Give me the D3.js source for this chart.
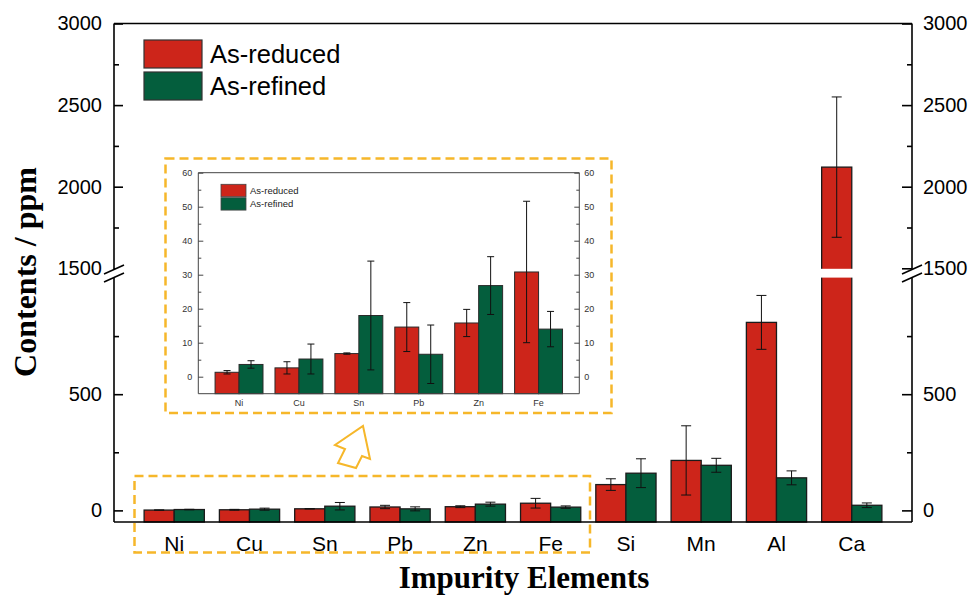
<!DOCTYPE html>
<html>
<head>
<meta charset="utf-8">
<script src="https://cdn.jsdelivr.net/npm/d3@7/dist/d3.min.js"></script>
<style>
body{margin:0;background:#fff;}
text{font-family:"Liberation Sans",Arial,sans-serif;}
.title{font-family:"Liberation Serif","Times New Roman",serif;font-weight:bold;}
</style>
</head>
<body>
<script>
// impurity contents (ppm)
var categories = ["Ni", "Cu", "Sn", "Pb", "Zn", "Fe", "Si", "Mn", "Al", "Ca"];
var insetCategories = ["Ni", "Cu", "Sn", "Pb", "Zn", "Fe"];
var seriesNames = ["As-reduced", "As-refined"];
var reduced = [1.3, 2.6, 6.8, 14.6, 15.8, 30.8, 111, 215, 809, 2120];
var reducedErr = [0.5, 1.8, 0.2, 7.2, 4.0, 20.8, 25, 149, 116, 430];
var refined = [3.6, 5.2, 18.0, 6.6, 26.8, 14.0, 160, 194, 140, 22];
var refinedErr = [1.1, 4.4, 16.0, 8.6, 8.5, 5.2, 62, 30, 30, 10];

var lowerTicks = [0, 500], lowerMinor = [250, 750];
var upperTicks = [1500, 2000, 2500, 3000], upperMinor = [1750, 2250, 2750];
var insetTicks = [0, 10, 20, 30, 40, 50, 60], insetMinor = [5, 15, 25, 35, 45, 55];

var colors = ["#CD251A", "#045E3D"];
var gold = "#F6B72A";

window.onload = function(){
	var w = 970, h = 596;
	var svg = d3.select("body").append("svg")
		.attr("width", w)
		.attr("height", h)
		.attr("class", "container");

	// long table: one row per bar
	var rows = [];
	categories.forEach(function(c, i){
		rows.push({cat: c, s: 0, v: reduced[i], e: reducedErr[i]});
		rows.push({cat: c, s: 1, v: refined[i], e: refinedErr[i]});
	});

	// ---------- main chart ----------
	var pLeft = 114, pRight = 912, pTop = 23.5, pBottom = 522;

	var x0 = d3.scaleBand().domain(categories).range([pLeft, pRight])
		.paddingInner(0.2).paddingOuter(0.4);
	var x1 = d3.scaleBand().domain([0, 1]).range([0, x0.bandwidth()]);

	var yLow = d3.scaleLinear().domain([-50, 1000]).range([pBottom, 278]);
	var yHigh = d3.scaleLinear().domain([1500, 3000]).range([268.3, pTop]);
	function yMain(v){
		if (v <= 1000) return yLow(v);
		if (v >= 1500) return yHigh(v);
		return 273;
	}

	// bars stand on the bottom axis (-50), like the original
	var bars = svg.append("g").attr("class", "bars");
	bars.selectAll("rect")
		.data(rows)
		.enter()
		.append("rect")
		.attr("x", function(d){ return x0(d.cat) + x1(d.s); })
		.attr("width", x1.bandwidth())
		.attr("y", function(d){ return yMain(d.v); })
		.attr("height", function(d){ return yLow(-50) - yMain(d.v); })
		.style("fill", function(d){ return colors[d.s]; })
		.style("stroke", "#1b1b1b")
		.style("stroke-width", 1.3);

	function drawErrors(g, data, xs0, xs1, ys, cap){
		var eb = g.selectAll(".err")
			.data(data)
			.enter()
			.append("g")
			.attr("class", "err")
			.style("stroke", "#111")
			.style("stroke-width", 1);
		eb.append("line")
			.attr("x1", function(d){ return xs0(d.cat) + xs1(d.s) + xs1.bandwidth() / 2; })
			.attr("x2", function(d){ return xs0(d.cat) + xs1(d.s) + xs1.bandwidth() / 2; })
			.attr("y1", function(d){ return ys(d.v - d.e); })
			.attr("y2", function(d){ return ys(d.v + d.e); });
		[-1, 1].forEach(function(sign){
			eb.append("line")
				.attr("x1", function(d){ return xs0(d.cat) + xs1(d.s) + xs1.bandwidth() / 2 - cap / 2; })
				.attr("x2", function(d){ return xs0(d.cat) + xs1(d.s) + xs1.bandwidth() / 2 + cap / 2; })
				.attr("y1", function(d){ return ys(d.v + sign * d.e); })
				.attr("y2", function(d){ return ys(d.v + sign * d.e); });
		});
	}
	drawErrors(bars, rows, x0, x1, yMain, 10);

	// white gap where the axis is broken
	svg.append("rect")
		.attr("x", pLeft + 2).attr("y", 268.8)
		.attr("width", pRight - pLeft - 4).attr("height", 8.8)
		.style("fill", "#fff");

	// frame
	var frame = svg.append("g").style("stroke", "#000").style("stroke-width", 1.6);
	frame.append("line").attr("x1", pLeft).attr("x2", pRight).attr("y1", pTop).attr("y2", pTop);
	frame.append("line").attr("x1", pLeft).attr("x2", pRight).attr("y1", pBottom).attr("y2", pBottom);
	frame.append("line").attr("x1", pLeft).attr("x2", pLeft).attr("y1", pTop).attr("y2", pBottom);
	frame.append("line").attr("x1", pRight).attr("x2", pRight).attr("y1", pTop).attr("y2", pBottom);

	function styleAxis(g, size){
		g.select(".domain").remove();
		g.selectAll(".tick line").style("stroke", "#000").style("stroke-width", 1.6);
		g.selectAll(".tick text").style("font-size", size + "px").style("fill", "#000")
			.style("font-family", "'Liberation Sans', Arial, sans-serif");
	}

	[[yLow, lowerTicks, lowerMinor], [yHigh, upperTicks, upperMinor]].forEach(function(p){
		var gl = svg.append("g").attr("transform", "translate(" + pLeft + ",0)")
			.call(d3.axisLeft(p[0]).tickValues(p[1]).tickSize(-9).tickPadding(12));
		styleAxis(gl, 20);
		var glm = svg.append("g").attr("transform", "translate(" + pLeft + ",0)")
			.call(d3.axisLeft(p[0]).tickValues(p[2]).tickSize(-5).tickFormat(""));
		styleAxis(glm, 20);
		var gr = svg.append("g").attr("transform", "translate(" + pRight + ",0)")
			.call(d3.axisRight(p[0]).tickValues(p[1]).tickSize(-10).tickPadding(11));
		styleAxis(gr, 20);
		var grm = svg.append("g").attr("transform", "translate(" + pRight + ",0)")
			.call(d3.axisRight(p[0]).tickValues(p[2]).tickSize(-5).tickFormat(""));
		styleAxis(grm, 20);
	});
	// plain numbers, no thousands separator
	svg.selectAll(".tick text").text(function(){ return this.textContent.replace(",", ""); });

	// break marks on both axes
	[pLeft, pRight].forEach(function(ax){
		svg.append("path")
			.attr("d", "M" + (ax - 10) + ",274 L" + (ax + 10) + ",265 L" + (ax + 10) + ",273 L" + (ax - 10) + ",282 Z")
			.style("fill", "#fff");
		[0, 8].forEach(function(off){
			svg.append("line")
				.attr("x1", ax - 10).attr("y1", 274 + off)
				.attr("x2", ax + 10).attr("y2", 265 + off)
				.style("stroke", "#000").style("stroke-width", 1.6);
		});
	});

	// category labels
	svg.selectAll(".xlab")
		.data(categories)
		.enter()
		.append("text")
		.attr("class", "xlab")
		.attr("x", function(d){ return x0(d) + x0.bandwidth() / 2; })
		.attr("y", 551)
		.attr("text-anchor", "middle")
		.style("font-size", "21px")
		.text(function(d){ return d; });

	// axis titles
	svg.append("text")
		.attr("class", "title")
		.attr("text-anchor", "middle")
		.attr("transform", "translate(36,272) rotate(-90)")
		.style("font-size", "32px")
		.text("Contents / ppm");
	svg.append("text")
		.attr("class", "title")
		.attr("text-anchor", "middle")
		.attr("x", 524)
		.attr("y", 588)
		.style("font-size", "31px")
		.text("Impurity Elements");

	// legend
	var legend = svg.selectAll(".legend")
		.data(seriesNames)
		.enter()
		.append("g")
		.attr("class", "legend")
		.attr("transform", function(d, i){ return "translate(144," + (40 + i * 32) + ")"; });
	legend.append("rect")
		.attr("width", 58).attr("height", 28)
		.style("fill", function(d, i){ return colors[i]; })
		.style("stroke", "#333").style("stroke-width", 1.2);
	legend.append("text")
		.attr("x", 66).attr("y", 14).attr("dy", "0.36em")
		.style("font-size", "25.5px")
		.text(function(d){ return d; });

	// dashed box round the small elements
	svg.append("rect")
		.attr("x", 134.5).attr("y", 476)
		.attr("width", 455.5).attr("height", 76.5)
		.style("fill", "none")
		.style("stroke", gold).style("stroke-width", 2.5)
		.style("stroke-dasharray", "9,5");

	// arrow
	svg.append("polygon")
		.attr("points", "363,426 370,459 362,456 356,468 338,463 345,449 335,445")
		.style("fill", "#fff")
		.style("stroke", gold).style("stroke-width", 2)
		.style("stroke-linejoin", "miter");

	// ---------- inset ----------
	svg.append("rect")
		.attr("x", 165.5).attr("y", 158.5)
		.attr("width", 446).attr("height", 254.5)
		.style("fill", "#fff")
		.style("stroke", gold).style("stroke-width", 2.5)
		.style("stroke-dasharray", "9,5");

	var iLeft = 198.3, iRight = 579.3, iTop = 172.7, iBottom = 393.7;
	var xi0 = d3.scaleBand().domain(insetCategories).range([iLeft, iRight])
		.paddingInner(0.2).paddingOuter(0.28);
	var xi1 = d3.scaleBand().domain([0, 1]).range([0, xi0.bandwidth()]);
	var yi = d3.scaleLinear().domain([-5, 60]).range([iBottom, iTop]);

	var insetRows = rows.filter(function(d){ return insetCategories.indexOf(d.cat) >= 0; });
	var inset = svg.append("g").attr("class", "inset");

	inset.selectAll("rect")
		.data(insetRows)
		.enter()
		.append("rect")
		.attr("x", function(d){ return xi0(d.cat) + xi1(d.s); })
		.attr("width", xi1.bandwidth())
		.attr("y", function(d){ return yi(d.v); })
		.attr("height", function(d){ return yi(-5) - yi(d.v); })
		.style("fill", function(d){ return colors[d.s]; })
		.style("stroke", "#2a2a2a")
		.style("stroke-width", 1);
	drawErrors(inset, insetRows, xi0, xi1, yi, 7);

	var iframe = inset.append("g").style("stroke", "#444").style("stroke-width", 1);
	iframe.append("line").attr("x1", iLeft).attr("x2", iRight).attr("y1", iTop).attr("y2", iTop);
	iframe.append("line").attr("x1", iLeft).attr("x2", iRight).attr("y1", iBottom).attr("y2", iBottom);
	iframe.append("line").attr("x1", iLeft).attr("x2", iLeft).attr("y1", iTop).attr("y2", iBottom);
	iframe.append("line").attr("x1", iRight).attr("x2", iRight).attr("y1", iTop).attr("y2", iBottom);

	function styleInsetAxis(g){
		g.select(".domain").remove();
		g.selectAll(".tick line").style("stroke", "#444").style("stroke-width", 1);
		g.selectAll(".tick text").style("font-size", "9px").style("fill", "#333")
			.style("font-family", "'Liberation Sans', Arial, sans-serif");
	}
	styleInsetAxis(inset.append("g").attr("transform", "translate(" + iLeft + ",0)")
		.call(d3.axisLeft(yi).tickValues(insetTicks).tickSize(-5).tickPadding(6)));
	styleInsetAxis(inset.append("g").attr("transform", "translate(" + iLeft + ",0)")
		.call(d3.axisLeft(yi).tickValues(insetMinor).tickSize(-3).tickFormat("")));
	styleInsetAxis(inset.append("g").attr("transform", "translate(" + iRight + ",0)")
		.call(d3.axisRight(yi).tickValues(insetTicks).tickSize(-5).tickPadding(5)));
	styleInsetAxis(inset.append("g").attr("transform", "translate(" + iRight + ",0)")
		.call(d3.axisRight(yi).tickValues(insetMinor).tickSize(-3).tickFormat("")));

	inset.selectAll(".ixlab")
		.data(insetCategories)
		.enter()
		.append("text")
		.attr("class", "ixlab")
		.attr("x", function(d){ return xi0(d) + xi0.bandwidth() / 2; })
		.attr("y", 406)
		.attr("text-anchor", "middle")
		.style("font-size", "9px")
		.style("fill", "#333")
		.text(function(d){ return d; });

	var ilegend = inset.selectAll(".ilegend")
		.data(seriesNames)
		.enter()
		.append("g")
		.attr("class", "ilegend")
		.attr("transform", function(d, i){ return "translate(221," + (184.3 + i * 13.4) + ")"; });
	ilegend.append("rect")
		.attr("width", 25).attr("height", 12.4)
		.style("fill", function(d, i){ return colors[i]; })
		.style("stroke", "#444").style("stroke-width", 0.8);
	ilegend.append("text")
		.attr("x", 29).attr("y", 6.2).attr("dy", "0.36em")
		.style("font-size", "9.5px")
		.style("fill", "#222")
		.text(function(d){ return d; });
};
</script>
</body>
</html>
